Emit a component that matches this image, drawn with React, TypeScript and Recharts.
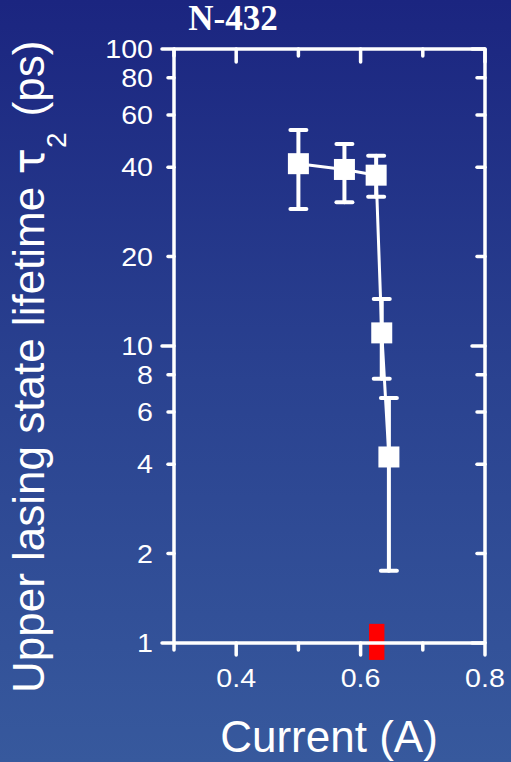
import {
  ComposedChart,
  Line,
  XAxis,
  YAxis,
  ErrorBar,
  ReferenceArea,
} from 'recharts';

// Current (A) of each measurement
const currents = [0.5, 0.574, 0.625, 0.634, 0.6455];
// Upper lasing state lifetime tau2 (ps)
const lifetimes = [41.1, 39.3, 37.6, 11.07, 4.23];
// error bar bounds (ps)
const errLow = [28.9, 30.5, 31.8, 7.76, 1.75];
const errHigh = [53.4, 47.9, 43.7, 14.4, 6.68];

const xTicks = [0.3, 0.4, 0.5, 0.6, 0.7, 0.8];
const xMajor = [0.4, 0.6, 0.8];
const yTicks = [1, 2, 4, 6, 8, 10, 20, 40, 60, 80, 100];
const yMajor = [1, 10, 100];

// threshold marker (red block on the current axis)
const thresholdX = [0.6135, 0.6383];
const thresholdY = [0.877, 1.16];

const data = currents.map((x, i) => ({
  x,
  y: lifetimes[i],
  err: [lifetimes[i] - errLow[i], errHigh[i] - lifetimes[i]],
}));

const W = 511;
const H = 762;
const FONT = '"Liberation Sans", Arial, sans-serif';
const TICK_W = 3.5;

const Square = (props: any) => {
  const { cx, cy, index } = props;
  if (cx == null || cy == null) return <g key={index} />;
  return <rect key={index} x={cx - 10.5} y={cy - 10.5} width={21} height={21} fill="#fff" />;
};

const LeftTick = ({ x, y, payload }: any) => {
  const major = yMajor.includes(payload.value);
  const len = major ? 12 : 6;
  return (
    <g>
      <line x1={x - len} x2={x} y1={y} y2={y} stroke="#fff" strokeWidth={TICK_W} strokeLinecap="round" />
      <g transform={`translate(${x - 21},${y}) scale(1.1,1)`}>
        <text x={0} y={0} textAnchor="end" dominantBaseline="central" fill="#fff" fontSize={26} fontFamily={FONT}>
          {payload.value}
        </text>
      </g>
    </g>
  );
};

const RightTick = ({ x, y, payload }: any) => {
  const major = yMajor.includes(payload.value);
  const len = major ? 13 : 8;
  return <line x1={x} x2={x - len} y1={y} y2={y} stroke="#fff" strokeWidth={TICK_W} strokeLinecap="round" />;
};

const BottomTick = ({ x, y, payload }: any) => {
  const major = xMajor.includes(payload.value);
  const len = major ? 12 : 7;
  return (
    <g>
      <line x1={x} x2={x} y1={y} y2={y + len} stroke="#fff" strokeWidth={TICK_W} strokeLinecap="round" />
      {major && (
        <g transform={`translate(${x},${y + 44}) scale(1.1,1)`}>
          <text x={0} y={0} textAnchor="middle" fill="#fff" fontSize={26} fontFamily={FONT}>
            {payload.value.toFixed(1)}
          </text>
        </g>
      )}
    </g>
  );
};

const TopTick = ({ x, y, payload }: any) => {
  const major = xMajor.includes(payload.value);
  const len = major ? 13 : 7;
  return <line x1={x} x2={x} y1={y} y2={y + len} stroke="#fff" strokeWidth={TICK_W} strokeLinecap="round" />;
};

export default function App() {
  const axisLine = { stroke: '#fff', strokeWidth: TICK_W };
  return (
    <div
      style={{
        position: 'absolute',
        left: 0,
        top: 0,
        width: W,
        height: H,
        background: 'linear-gradient(180deg, #1b2580 0%, #2a4290 50%, #37599d 100%)',
      }}
    >
      <ComposedChart width={W} height={H} data={data} margin={{ top: 48, right: 25, bottom: 0, left: 0 }}>
        <XAxis
          xAxisId="b"
          dataKey="x"
          type="number"
          domain={[0.3, 0.8]}
          ticks={xTicks}
          allowDataOverflow
          height={119}
          tickSize={0}
          tickMargin={0}
          tickLine={false}
          axisLine={axisLine}
          tick={<BottomTick />}
          interval={0}
        />
        <XAxis
          xAxisId="t"
          dataKey="x"
          orientation="top"
          type="number"
          scale="linear"
          domain={[0.3, 0.8]}
          ticks={xTicks}
          allowDataOverflow
          height={1}
          tickSize={0}
          tickMargin={0}
          tickLine={false}
          axisLine={axisLine}
          tick={<TopTick />}
          interval={0}
        />
        <YAxis
          yAxisId="l"
          scale="log"
          type="number"
          domain={[1, 100]}
          ticks={yTicks}
          allowDataOverflow
          width={174}
          tickSize={0}
          tickMargin={0}
          tickLine={false}
          axisLine={axisLine}
          tick={<LeftTick />}
          interval={0}
        />
        <YAxis
          yAxisId="r"
          orientation="right"
          scale="log"
          type="number"
          domain={[1, 100]}
          ticks={yTicks}
          allowDataOverflow
          width={1}
          tickSize={0}
          tickMargin={0}
          tickLine={false}
          axisLine={axisLine}
          tick={<RightTick />}
          interval={0}
        />
        <Line
          xAxisId="b"
          yAxisId="l"
          dataKey="y"
          type="linear"
          stroke="#fff"
          strokeWidth={3}
          dot={Square}
          activeDot={false}
          isAnimationActive={false}
        >
          <ErrorBar
            dataKey="err"
            direction="y"
            width={8}
            stroke="#fff"
            strokeWidth={4}
            strokeLinecap="round"
            isAnimationActive={false}
          />
        </Line>
        <ReferenceArea
          xAxisId="b"
          yAxisId="l"
          x1={thresholdX[0]}
          x2={thresholdX[1]}
          y1={thresholdY[0]}
          y2={thresholdY[1]}
          fill="#ff0000"
          fillOpacity={1}
          stroke="none"
          ifOverflow="visible"
        />
      </ComposedChart>
      <svg width={W} height={H} style={{ position: 'absolute', left: 0, top: 0, pointerEvents: 'none' }}>
        <text x={233} y={30} textAnchor="middle" fill="#fff" fontSize={35} fontWeight="bold" fontFamily='"Liberation Serif", "Times New Roman", serif'>
          N-432
        </text>
        <text x={329} y={752} textAnchor="middle" fill="#fff" fontSize={44} fontFamily={FONT}>
          Current (A)
        </text>
        <text transform="translate(44,693) rotate(-90)" fill="#fff" fontSize={44} fontFamily={FONT}>
          Upper lasing state lifetime{'  '}
          <tspan fontFamily='"DejaVu Sans", sans-serif'>τ</tspan>
          <tspan dy={22} fontSize={28}>2</tspan>
          <tspan dy={-22} dx={16}>(ps)</tspan>
        </text>
      </svg>
    </div>
  );
}
